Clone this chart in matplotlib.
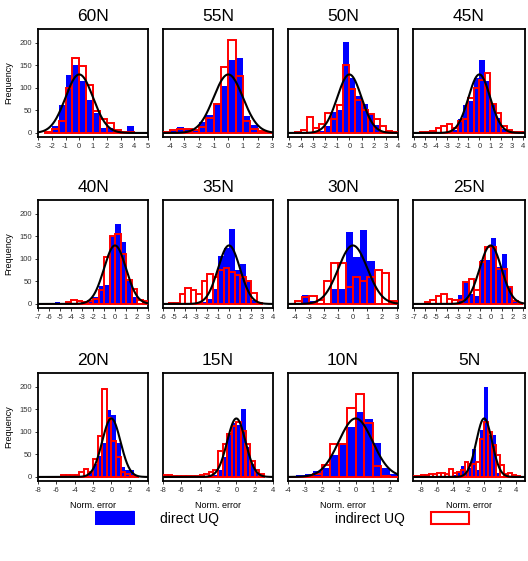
import numpy as np
import matplotlib
matplotlib.use('Agg')
import matplotlib.pyplot as plt
from matplotlib.patches import Rectangle

plt.rcParams['font.family'] = ['Liberation Sans', 'DejaVu Sans']

# ---------------- data ----------------
regions = ['60N', '55N', '50N', '45N', '40N', '35N', '30N', '25N', '20N', '15N', '10N', '5N']
bin_width = 0.5

start_60N = -2.5
direct_60N = [2, 15, 63, 128, 150, 116, 74, 44, 11, 12, 5, 3, 15, 3]
indirect_60N = [3, 8, 27, 100, 167, 148, 107, 48, 30, 22, 6, 2, 1, 0]

start_55N = -4.5
direct_55N = [2, 5, 13, 8, 6, 25, 40, 64, 104, 161, 167, 37, 18, 5, 1]
indirect_55N = [1, 7, 8, 8, 7, 14, 33, 64, 146, 207, 126, 27, 8, 5, 0]

start_50N = -4.5
direct_50N = [1, 2, 2, 3, 5, 15, 47, 50, 202, 121, 81, 64, 41, 18, 5, 1, 0]
indirect_50N = [2, 6, 35, 10, 20, 44, 31, 63, 150, 98, 74, 50, 42, 31, 15, 4, 1]

start_45N = -6.0
direct_45N = [1, 1, 0, 1, 2, 3, 4, 6, 30, 63, 70, 122, 163, 115, 64, 33, 8, 3, 1, 0]
indirect_45N = [0, 3, 2, 5, 11, 15, 20, 12, 26, 30, 78, 100, 118, 133, 64, 44, 15, 6, 2, 1]

start_40N = -7.0
direct_40N = [1, 2, 3, 4, 2, 2, 2, 3, 5, 8, 15, 39, 43, 150, 178, 137, 53, 16, 3, 1]
indirect_40N = [0, 0, 0, 0, 0, 4, 9, 6, 5, 6, 10, 30, 105, 150, 155, 110, 53, 33, 9, 6]

start_35N = -5.5
direct_35N = [2, 1, 1, 1, 2, 3, 5, 10, 33, 107, 125, 167, 76, 89, 48, 8, 1]
indirect_35N = [2, 3, 22, 35, 30, 22, 50, 67, 59, 76, 80, 72, 65, 60, 52, 24, 2]

start_30N = -4.5
direct_30N = [2, 3, 21, 7, 3, 3, 33, 33, 160, 105, 165, 96, 2, 0, 0]
indirect_30N = [1, 7, 15, 17, 8, 50, 90, 90, 37, 61, 50, 59, 75, 68, 7]

start_25N = -7.0
direct_25N = [1, 1, 1, 1, 1, 1, 1, 3, 20, 48, 22, 18, 98, 98, 147, 83, 111, 37, 5, 1]
indirect_25N = [1, 1, 5, 9, 18, 22, 11, 9, 9, 48, 55, 31, 93, 126, 126, 78, 78, 37, 7, 0]

start_20N = -7.0
direct_20N = [1, 2, 1, 1, 1, 1, 1, 2, 3, 8, 29, 47, 76, 149, 138, 76, 22, 15, 16, 3]
indirect_20N = [0, 0, 0, 5, 5, 5, 5, 11, 18, 11, 40, 91, 195, 131, 80, 44, 11, 7, 3, 0]

start_15N = -8.0
direct_15N = [1, 1, 0, 0, 1, 1, 1, 1, 1, 2, 3, 5, 16, 44, 98, 120, 116, 151, 67, 29, 11, 2]
indirect_15N = [4, 4, 2, 2, 2, 2, 3, 3, 4, 7, 11, 15, 57, 74, 95, 113, 122, 102, 73, 36, 15, 7]

start_10N = -4.0
direct_10N = [3, 4, 6, 13, 20, 48, 75, 111, 144, 129, 75, 20, 6]
indirect_10N = [0, 0, 0, 7, 26, 73, 73, 153, 184, 119, 24, 2, 0]

start_5N = -9.0
direct_5N = [0, 0, 0, 0, 0, 0, 0, 0, 1, 2, 5, 12, 25, 11, 20, 63, 15, 104, 200, 94, 94, 8, 3, 1, 0, 0, 0, 0]
indirect_5N = [3, 3, 5, 5, 6, 6, 8, 8, 7, 18, 9, 10, 15, 34, 29, 29, 33, 85, 122, 100, 70, 48, 26, 7, 9, 4, 2, 0]

xlims = [(-3, 5), (-4.45, 3.05), (-5.05, 4.0), (-6.1, 4.2),
         (-7, 3), (-6, 4), (-4.46, 3.1), (-7.1, 3.15),
         (-8, 4), (-8, 4), (-4, 2.5), (-9.06, 5.2)]
xticks = [range(-3, 6), range(-4, 4), range(-5, 5), range(-6, 5),
          range(-7, 4), range(-6, 5), range(-4, 4), range(-7, 4),
          range(-8, 5, 2), range(-8, 5, 2), range(-4, 3), range(-8, 5, 2)]
yticks = [0, 50, 100, 150, 200]
curve_peak = 130
curve_sd = 1.0

starts = [start_60N, start_55N, start_50N, start_45N, start_40N, start_35N,
          start_30N, start_25N, start_20N, start_15N, start_10N, start_5N]
directs = [direct_60N, direct_55N, direct_50N, direct_45N, direct_40N, direct_35N,
           direct_30N, direct_25N, direct_20N, direct_15N, direct_10N, direct_5N]
indirects = [indirect_60N, indirect_55N, indirect_50N, indirect_45N, indirect_40N, indirect_35N,
             indirect_30N, indirect_25N, indirect_20N, indirect_15N, indirect_10N, indirect_5N]

BLUE = '#0000FF'
RED = '#FF0000'

# ---------------- layout ----------------
W, H = 528, 561
fig = plt.figure(figsize=(W / 100, H / 100), dpi=100)
col_left = [38, 163, 288, 413]
col_w = [110, 110, 110, 112]
row_top = [29, 200, 373]
ax_h = 108

for k, name in enumerate(regions):
    r, c = divmod(k, 4)
    ax = fig.add_axes([col_left[c] / W, 1 - (row_top[r] + ax_h) / H, col_w[c] / W, ax_h / H])
    n = len(directs[k])
    lefts = starts[k] + bin_width * np.arange(n)
    ax.bar(lefts, directs[k], width=bin_width, align='edge', color=BLUE, linewidth=0, zorder=2)
    ax.bar(lefts, indirects[k], width=bin_width, align='edge', facecolor='none',
           edgecolor=RED, linewidth=1.4, zorder=3)
    xs = np.linspace(xlims[k][0], xlims[k][1], 300)
    ax.plot(xs, curve_peak * np.exp(-0.5 * (xs / curve_sd) ** 2), color='black', lw=1.5, zorder=4)
    ax.set_xlim(*xlims[k])
    ax.set_ylim(-9, 231)
    ax.set_xticks(list(xticks[k]))
    ax.set_xticklabels([str(v) for v in xticks[k]])
    ax.tick_params(axis='x', labelsize=5.5, length=2.5, width=0.7, pad=2, colors='#333333')
    if c == 0:
        ax.set_yticks(yticks)
        ax.tick_params(axis='y', labelsize=5.5, length=2.5, width=0.7, pad=2, colors='#333333')
        ax.set_ylabel('Frequency', fontsize=6.5, labelpad=4)
    else:
        ax.set_yticks([])
    if r == 2:
        ax.set_xlabel('Norm. error', fontsize=6.5, labelpad=5)
    for sp in ax.spines.values():
        sp.set_linewidth(1.3)
    ax.set_title(name, fontsize=12.5, pad=6)

# legend
fig.add_artist(Rectangle((95 / W, 1 - 525 / H), 40 / W, 14 / H, transform=fig.transFigure,
                         facecolor=BLUE, edgecolor='none'))
fig.text(160 / W, 1 - 519 / H, 'direct UQ', fontsize=10, va='center', ha='left')
fig.add_artist(Rectangle((431 / W, 1 - 524 / H), 38 / W, 12 / H, transform=fig.transFigure,
                         facecolor='none', edgecolor=RED, linewidth=1.5))
fig.text(335 / W, 1 - 519 / H, 'indirect UQ', fontsize=10, va='center', ha='left')

fig.savefig('out.png', dpi=100)
